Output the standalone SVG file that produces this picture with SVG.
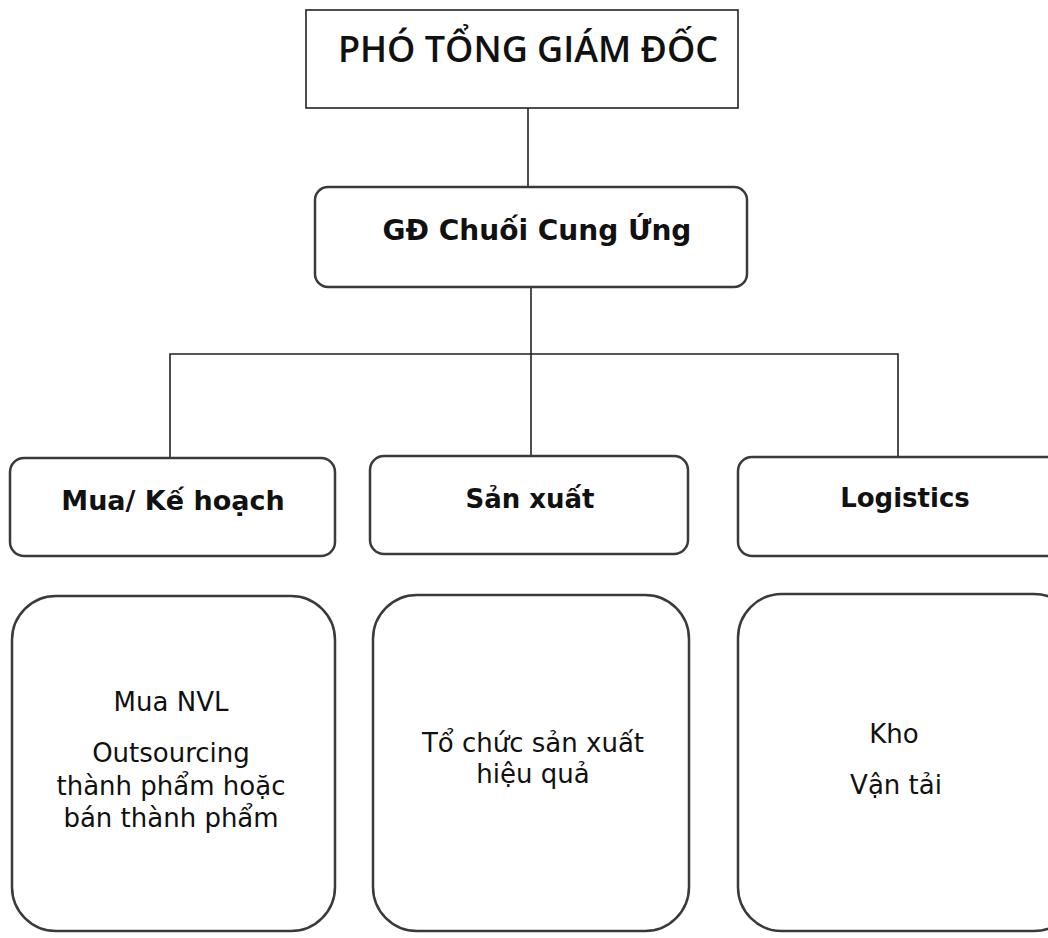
<svg xmlns="http://www.w3.org/2000/svg" width="1048" height="938" viewBox="0 0 1048 938">
<style>
.box{fill:#fff;stroke:#3a3a3a;stroke-width:2.5}
.top{fill:#fff;stroke:#222;stroke-width:1.6}
.con{fill:none;stroke:#222;stroke-width:1.6}
.h{font-family:"DejaVu Sans",Verdana,sans-serif;font-weight:bold;font-size:26px;fill:#111;text-anchor:middle}
.t{font-family:"DejaVu Sans",Verdana,sans-serif;font-size:26px;fill:#111;text-anchor:middle}
.title{font-family:"Open Sans","Liberation Sans",sans-serif;font-weight:600;font-size:36px;fill:#111;text-anchor:middle}
</style>
<rect width="1048" height="938" fill="#fff"/>
<g id="connectors">
<line class="con" x1="528" y1="108" x2="528" y2="187"/>
<line class="con" x1="531" y1="287" x2="531" y2="456"/>
<polyline class="con" points="170,458 170,354 898,354 898,457"/>
</g>
<g id="pho-tong-giam-doc">
<rect class="top" x="306" y="10" width="432" height="98"/>
<text class="title" x="528" y="62">PHÓ TỔNG GIÁM ĐỐC</text>
</g>
<g id="gd-chuoi-cung-ung">
<rect class="box" x="315" y="187" width="432" height="100" rx="13"/>
<text class="h" x="537" y="240" style="font-size:28px">GĐ Chuối Cung Ứng</text>
</g>
<g id="mua-ke-hoach">
<rect class="box" x="10" y="458" width="325" height="98" rx="14"/>
<text class="h" x="173" y="510" style="font-size:27px">Mua/ Kế hoạch</text>
</g>
<g id="san-xuat">
<rect class="box" x="370" y="456" width="318" height="98" rx="14"/>
<text class="h" x="530" y="508">Sản xuất</text>
</g>
<g id="logistics">
<rect class="box" x="738" y="457" width="340" height="99" rx="14"/>
<text class="h" x="905" y="507">Logistics</text>
</g>
<g id="mua-detail">
<rect class="box" x="12" y="596" width="323" height="335" rx="44"/>
<text class="t" x="171" y="711">Mua NVL</text>
<text class="t" x="171" y="762">Outsourcing</text>
<text class="t" x="171" y="795">thành phẩm hoặc</text>
<text class="t" x="171" y="827">bán thành phẩm</text>
</g>
<g id="san-xuat-detail">
<rect class="box" x="373" y="595" width="316" height="336" rx="44"/>
<text class="t" x="533" y="752">Tổ chức sản xuất</text>
<text class="t" x="533" y="783">hiệu quả</text>
</g>
<g id="logistics-detail">
<rect class="box" x="738" y="594" width="340" height="337" rx="44"/>
<text class="t" x="894" y="743">Kho</text>
<text class="t" x="896" y="794">Vận tải</text>
</g>
</svg>
